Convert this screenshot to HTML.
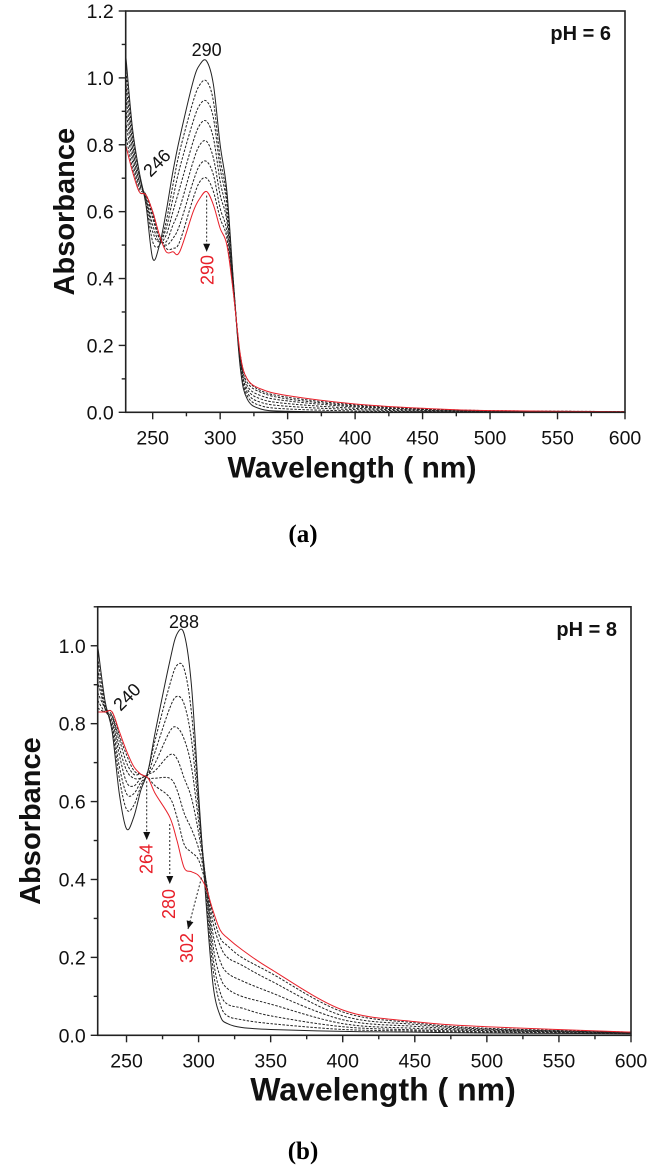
<!DOCTYPE html>
<html><head><meta charset="utf-8"><style>
html,body{margin:0;padding:0;background:#fff;}
svg{display:block;font-family:"Liberation Sans",Arial,sans-serif;}
</style></head><body>
<svg id="fig" width="666" height="1168" viewBox="0 0 666 1168">
<g id="chartA"></g>
<g id="chartB"></g>
<text x="303" y="542" text-anchor="middle" font-family="Liberation Serif, serif" font-weight="bold" font-size="25">(a)</text>
<text x="303" y="1159" text-anchor="middle" font-family="Liberation Serif, serif" font-weight="bold" font-size="25">(b)</text>
</svg>
<script>
const wavelengths = [230,235,240,245,250,255,260,265,270,280,285,290,295,300,305,310,315,320,330,350,400,450,500,600];
const xTicks = [250,300,350,400,450,500,550,600];
const yTicksA = [0,0.2,0.4,0.6,0.8,1.0,1.2];
const yTicksB = [0,0.2,0.4,0.6,0.8,1.0];
const seriesA0 = [1.07,0.85,0.72,0.62,0.46,0.50,0.60,0.72,0.82,0.99,1.04,1.05,0.98,0.80,0.66,0.38,0.13,0.04,0.01,0.003,0.001,0,0,0];
const seriesA1 = [1.03,0.83,0.71,0.63,0.51,0.50,0.57,0.68,0.78,0.93,0.98,0.99,0.93,0.76,0.64,0.38,0.14,0.05,0.02,0.01,0.004,0.002,0.001,0];
const seriesA2 = [0.99,0.81,0.70,0.64,0.54,0.51,0.55,0.64,0.73,0.87,0.92,0.93,0.88,0.73,0.62,0.37,0.15,0.06,0.03,0.018,0.008,0.004,0.002,0.001];
const seriesA3 = [0.95,0.79,0.69,0.64,0.56,0.51,0.53,0.60,0.67,0.81,0.86,0.87,0.82,0.69,0.59,0.37,0.15,0.07,0.04,0.026,0.012,0.006,0.003,0.001];
const seriesA4 = [0.91,0.77,0.68,0.65,0.58,0.52,0.51,0.56,0.61,0.75,0.80,0.81,0.76,0.65,0.57,0.36,0.16,0.08,0.05,0.034,0.016,0.008,0.003,0.001];
const seriesA5 = [0.87,0.75,0.67,0.65,0.59,0.52,0.50,0.52,0.56,0.69,0.74,0.75,0.71,0.61,0.54,0.36,0.16,0.09,0.06,0.04,0.019,0.009,0.004,0.002];
const seriesA6 = [0.83,0.73,0.66,0.65,0.60,0.53,0.49,0.49,0.51,0.64,0.69,0.70,0.66,0.58,0.52,0.35,0.17,0.10,0.065,0.045,0.022,0.011,0.005,0.002];
const seriesA7 = [0.80,0.72,0.66,0.65,0.60,0.53,0.48,0.48,0.48,0.60,0.64,0.66,0.62,0.55,0.50,0.35,0.17,0.10,0.07,0.05,0.025,0.012,0.005,0.002];
const seriesB0 = [1.00,0.86,0.78,0.62,0.53,0.56,0.63,0.68,0.78,0.96,1.03,1.03,0.90,0.62,0.35,0.13,0.05,0.03,0.02,0.015,0.01,0.008,0.006,0.004];
const seriesB1 = [0.97,0.85,0.79,0.66,0.58,0.59,0.64,0.68,0.76,0.90,0.95,0.94,0.83,0.60,0.37,0.17,0.08,0.05,0.04,0.03,0.015,0.011,0.008,0.005];
const seriesB2 = [0.94,0.84,0.80,0.69,0.62,0.62,0.65,0.67,0.73,0.84,0.87,0.85,0.76,0.58,0.39,0.20,0.11,0.08,0.07,0.05,0.022,0.014,0.010,0.005];
const seriesB3 = [0.91,0.84,0.81,0.72,0.65,0.64,0.66,0.67,0.70,0.78,0.79,0.76,0.69,0.55,0.40,0.23,0.15,0.12,0.10,0.08,0.03,0.018,0.012,0.006];
const seriesB4 = [0.88,0.84,0.82,0.74,0.68,0.66,0.66,0.67,0.68,0.72,0.71,0.66,0.61,0.52,0.40,0.26,0.19,0.16,0.14,0.11,0.04,0.023,0.014,0.006];
const seriesB5 = [0.86,0.83,0.82,0.76,0.70,0.67,0.67,0.66,0.66,0.66,0.63,0.57,0.53,0.48,0.40,0.29,0.23,0.20,0.18,0.14,0.05,0.028,0.016,0.007];
const seriesB6 = [0.84,0.83,0.83,0.77,0.72,0.68,0.67,0.66,0.64,0.61,0.56,0.49,0.47,0.45,0.39,0.31,0.25,0.23,0.20,0.16,0.06,0.032,0.018,0.008];
const seriesB7 = [0.83,0.83,0.83,0.78,0.73,0.69,0.67,0.66,0.62,0.56,0.50,0.43,0.42,0.41,0.38,0.32,0.27,0.25,0.22,0.17,0.065,0.035,0.022,0.008];

const NS='http://www.w3.org/2000/svg';
function mk(parent,tag,attrs){const e=document.createElementNS(NS,tag);for(const k in attrs)e.setAttribute(k,attrs[k]);parent.appendChild(e);return e;}
function smooth(pts){let d='M'+pts[0][0].toFixed(2)+','+pts[0][1].toFixed(2);
 for(let i=0;i<pts.length-1;i++){const p0=pts[i-1]||pts[i],p1=pts[i],p2=pts[i+1],p3=pts[i+2]||p2;
  const c1=[p1[0]+(p2[0]-p0[0])/6,p1[1]+(p2[1]-p0[1])/6],c2=[p2[0]-(p3[0]-p1[0])/6,p2[1]-(p3[1]-p1[1])/6];
  d+='C'+c1.map(v=>v.toFixed(2)).join(',')+' '+c2.map(v=>v.toFixed(2)).join(',')+' '+p2[0].toFixed(2)+','+p2[1].toFixed(2);}
 return d;}

function drawChart(g,cfg){
 const X=w=>cfg.x0+(w-230)/(600-230)*(cfg.x1-cfg.x0);
 const Y=v=>cfg.y0-(v/cfg.ymax)*(cfg.y0-cfg.y1);
 cfg.series.forEach((s,i)=>{
  const pts=wavelengths.map((w,j)=>[X(w),Y(s[j])]);
  const last=i===cfg.series.length-1;
  const p=mk(g,'path',{d:smooth(pts),fill:'none',stroke:last?'#e8202a':'#222','stroke-width':1,'stroke-dasharray':(i===0||last)?'none':'2.5,1.5'});
  
  
 });
 const frame=mk(g,'rect',{x:cfg.x0,y:cfg.y1,width:cfg.x1-cfg.x0,height:cfg.y0-cfg.y1,fill:'none',stroke:'#222','stroke-width':1.6});
 
 
 for(let w=250;w<=600;w+=25){const major=(w%50===0);
  mk(g,'line',{x1:X(w),x2:X(w),y1:cfg.y0,y2:cfg.y0+(major?7:4),stroke:'#222','stroke-width':1.4});}
 xTicks.forEach(w=>{const t=mk(g,'text',{x:X(w),y:cfg.y0+32,'text-anchor':'middle','font-size':19.5,fill:'#111'});t.textContent=w;
  
  });
 for(let v=0;v<=cfg.ymax+1e-6;v+=0.1){const major=Math.round(v*10)%2===0;
  mk(g,'line',{x1:cfg.x0,x2:cfg.x0-(major?7:4),y1:Y(v),y2:Y(v),stroke:'#222','stroke-width':1.4});}
 cfg.yTicks.forEach(v=>{const t=mk(g,'text',{x:cfg.x0-12,y:Y(v)+7,'text-anchor':'end','font-size':19.5,fill:'#111'});t.textContent=v.toFixed(1);
  
  });
 const xt=mk(g,'text',{x:cfg.xTitleX,y:cfg.y0+65,'text-anchor':'middle','font-size':cfg.xTitleSize,'font-weight':'bold',fill:'#111'});
 xt.textContent='Wavelength ( nm)';
 
 
 const yc=(cfg.y0+cfg.y1)/2, yx=cfg.yTitleX;
 const yt=mk(g,'text',{x:yx,y:yc,'text-anchor':'middle','font-size':29,'font-weight':'bold',fill:'#111',transform:'rotate(-90 '+yx+' '+yc+') translate(0 10)'});
 yt.textContent='Absorbance';
 
 
 const ph=mk(g,'text',{x:cfg.x1-14,y:cfg.y1+29,'text-anchor':'end','font-size':20,'font-weight':'bold',fill:'#111'});
 ph.textContent=cfg.ph;
 
 
 return {X,Y};
}
function arrow(g,x1,y1,x2,y2){
 mk(g,'line',{x1,y1,x2,y2,stroke:'#222','stroke-width':1,'stroke-dasharray':'2,2'});
 const a=Math.atan2(y2-y1,x2-x1),L=8,W=3.5;
 const p=[[x2,y2],[x2-L*Math.cos(a)+W*Math.sin(a),y2-L*Math.sin(a)-W*Math.cos(a)],[x2-L*Math.cos(a)-W*Math.sin(a),y2-L*Math.sin(a)+W*Math.cos(a)]];
 mk(g,'polygon',{points:p.map(q=>q.join(',')).join(' '),fill:'#111'});
}
function label(g,txt,x,y,rot,color,name){
 const t=mk(g,'text',{x,y,'text-anchor':'middle','dominant-baseline':'central','font-size':18,fill:color,transform:'rotate('+rot+' '+x+' '+y+')'});
 t.textContent=txt;
 
 
}

const gA=document.getElementById('chartA');
const A=drawChart(gA,{x0:125.7,x1:625,y0:412.3,y1:11,ymax:1.2,yTicks:yTicksA,ph:'pH = 6',xTitleX:352,xTitleSize:30,yTitleX:64,
 series:[seriesA0,seriesA1,seriesA2,seriesA3,seriesA4,seriesA5,seriesA6,seriesA7]});
label(gA,'290',A.X(290),50,0,'#111','peak-label-290');
label(gA,'246',157,163,-45,'#111','shoulder-label-246');
arrow(gA,A.X(290),A.Y(0.66)+4,A.X(290),A.Y(0.48));
label(gA,'290',A.X(290)+1,270,-90,'#e8202a','arrow-label-290');

const gB=document.getElementById('chartB');
const B=drawChart(gB,{x0:97.7,x1:631,y0:1035.3,y1:606.8,ymax:1.1,yTicks:yTicksB,ph:'pH = 8',xTitleX:383,xTitleSize:32,yTitleX:30,
 series:[seriesB0,seriesB1,seriesB2,seriesB3,seriesB4,seriesB5,seriesB6,seriesB7]});
label(gB,'288',184,622,0,'#111','peak-label-288');
label(gB,'240',127,697,-45,'#111','shoulder-label-240');
arrow(gB,B.X(264),B.Y(0.66)+3,B.X(264),840);
label(gB,'264',B.X(264),859,-90,'#e8202a','arrow-label-264');
arrow(gB,B.X(280),B.Y(0.55)+3,B.X(280),884);
label(gB,'280',B.X(280)-1,904,-90,'#e8202a','arrow-label-280');
arrow(gB,B.X(302),B.Y(0.41)+2,188,929);
label(gB,'302',187,948,-90,'#e8202a','arrow-label-302');
</script>
</body></html>
